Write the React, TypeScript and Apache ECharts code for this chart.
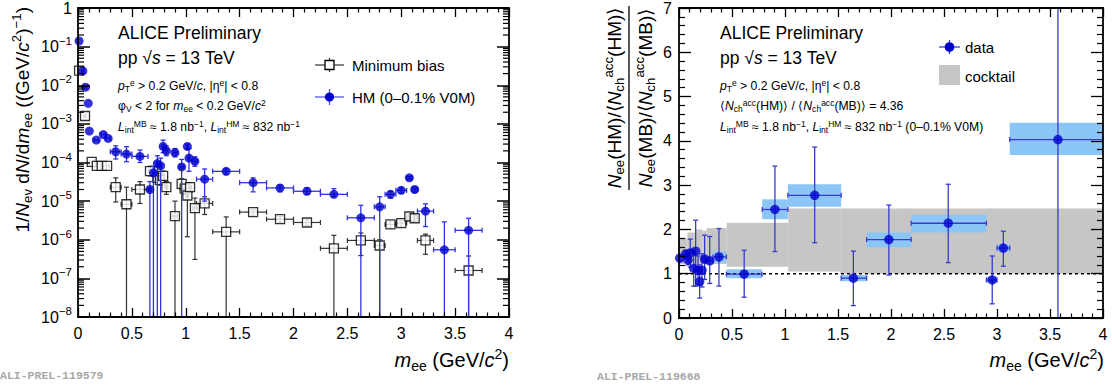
import React, { useEffect, useRef } from 'react';
import * as echarts from 'echarts';

const FONT = '"Liberation Sans", Arial, Helvetica, sans-serif';
const MONO = '"Liberation Mono", "DejaVu Sans Mono", monospace';

// ---------------- Left panel: dN/dm_ee ----------------
// High multiplicity (HM 0-0.1% V0M)
const hmMass = [0.01, 0.045, 0.07, 0.095, 0.105, 0.17, 0.235, 0.28, 0.35, 0.45, 0.575, 0.667, 0.70, 0.736, 0.767, 0.79, 0.82, 0.90, 0.962, 1.015, 1.03, 1.085, 1.175, 1.375, 1.625, 1.875, 2.125, 2.375, 2.625, 2.8, 2.9, 3.0, 3.075, 3.125, 3.225, 3.4, 3.625];
const hmYield = [0.14, 0.0235, 8.9e-3, 3.4e-3, 6.5e-4, 3.8e-4, 5.3e-4, 4.2e-4, 1.9e-4, 1.65e-4, 1.44e-4, 2.0e-5, 5.4e-5, 9.4e-5, 8.2e-5, 2.6e-4, 2.0e-4, 1.8e-4, 7.7e-5, 2.6e-4, 1.3e-4, 1.07e-4, 3.7e-5, 5.9e-5, 3.0e-5, 2.2e-5, 1.8e-5, 1.5e-5, 3.7e-6, 7.1e-6, 1.5e-5, 1.9e-5, 4.0e-5, 2.0e-5, 5.5e-6, 5.5e-7, 1.75e-6];
// 0 = error bar reaches below the axis minimum
const hmLow = [0.14, 0.0235, 8.9e-3, 3.4e-3, 6.5e-4, 3.8e-4, 5.3e-4, 4.2e-4, 1.23e-4, 1.05e-4, 1.0e-4, 0, 0, 0, 0, 1.8e-4, 1.5e-4, 1.4e-4, 0, 2.2e-4, 5.9e-5, 8e-5, 1.0e-5, 4.9e-5, 1.74e-5, 1.74e-5, 1.5e-5, 1.3e-5, 0, 0, 1.2e-5, 1.6e-5, 3.6e-5, 1.7e-5, 2.2e-6, 0, 0];
const hmHigh = [0.14, 0.0235, 8.9e-3, 3.4e-3, 6.5e-4, 3.8e-4, 5.3e-4, 4.2e-4, 2.7e-4, 2.57e-4, 2.1e-4, 3.2e-5, 8e-5, 1.5e-4, 1.3e-4, 3.8e-4, 2.7e-4, 2.3e-4, 1.2e-4, 3.0e-4, 2.3e-4, 1.4e-4, 6.8e-5, 6.8e-5, 4.0e-5, 2.6e-5, 2.2e-5, 2.1e-5, 7.8e-6, 1.3e-5, 1.8e-5, 2.2e-5, 4.4e-5, 2.3e-5, 8.5e-6, 2.9e-6, 3.6e-6];
const hmHalfWidth = [0.005, 0.01, 0.01, 0.005, 0.005, 0.02, 0.02, 0.02, 0.05, 0.05, 0.075, 0.012, 0.012, 0.012, 0.012, 0.012, 0.015, 0.02, 0.02, 0.01, 0.01, 0.02, 0.075, 0.125, 0.125, 0.125, 0.125, 0.125, 0.125, 0.05, 0.05, 0.05, 0.025, 0.025, 0.075, 0.1, 0.125];

// Minimum bias
const mbMass = [0.01, 0.065, 0.127, 0.175, 0.22, 0.27, 0.35, 0.45, 0.575, 0.668, 0.736, 0.76, 0.79, 0.82, 0.90, 0.962, 0.99, 1.015, 1.04, 1.085, 1.175, 1.375, 1.625, 1.875, 2.125, 2.375, 2.625, 2.8, 2.9, 3.0, 3.075, 3.125, 3.225, 3.625];
const mbYield = [0.024, 1.6e-3, 1.04e-4, 8.2e-5, 8.2e-5, 8.2e-5, 2.3e-5, 8.3e-6, 2.0e-5, 6.0e-5, 4.0e-5, 3.5e-5, 4.5e-5, 2.3e-5, 4.1e-6, 2.8e-5, 2.1e-5, 1.4e-5, 2.3e-5, 6.6e-6, 8.7e-6, 1.6e-6, 5.2e-6, 3.4e-6, 2.8e-6, 6.0e-7, 9.6e-7, 7.1e-7, 2.5e-6, 2.7e-6, 4.0e-6, 3.6e-6, 9.6e-7, 1.6e-7];
const mbLow = [0.024, 1.6e-3, 1.04e-4, 8.2e-5, 8.2e-5, 8.2e-5, 9.5e-6, 0, 8.7e-6, 4.5e-5, 3e-5, 2.6e-5, 3.3e-5, 1.5e-5, 0, 2.0e-5, 1.5e-5, 1.2e-6, 1.7e-5, 3.1e-7, 4.5e-6, 0, 4.3e-6, 2.8e-6, 2.3e-6, 0, 3.9e-7, 0, 2.0e-6, 2.2e-6, 3.4e-6, 3.0e-6, 4.2e-7, 0];
const mbHigh = [0.024, 1.6e-3, 1.04e-4, 8.2e-5, 8.2e-5, 8.2e-5, 4.0e-5, 2.3e-5, 3.2e-5, 8e-5, 5.3e-5, 4.6e-5, 6e-5, 3.2e-5, 1.0e-5, 3.8e-5, 2.8e-5, 2.2e-5, 3e-5, 1.2e-5, 1.3e-5, 3.9e-6, 6e-6, 4e-6, 3.3e-6, 1.3e-6, 1.5e-6, 1.0e-6, 3e-6, 3.2e-6, 4.6e-6, 4.2e-6, 1.4e-6, 3.8e-7];
const mbHalfWidth = [0.01, 0.01, 0.02, 0.02, 0.02, 0.02, 0.05, 0.05, 0.075, 0.012, 0.012, 0.012, 0.012, 0.012, 0.02, 0.012, 0.012, 0.012, 0.012, 0.02, 0.075, 0.125, 0.125, 0.125, 0.125, 0.125, 0.125, 0.05, 0.05, 0.05, 0.025, 0.025, 0.075, 0.125];

const leftXTickLabels = ['0', '0.5', '1', '1.5', '2', '2.5', '3', '3.5', '4'];
const leftYTickExponents = [0, -1, -2, -3, -4, -5, -6, -7, -8];

// ---------------- Right panel: HM / MB ratio ----------------
const ratioMass = [0.007, 0.063, 0.085, 0.107, 0.139, 0.157, 0.18, 0.195, 0.217, 0.242, 0.29, 0.377, 0.615, 0.905, 1.28, 1.645, 1.98, 2.54, 2.955, 3.06, 3.575];
const ratioValue = [1.35, 1.44, 1.31, 1.47, 1.12, 1.51, 1.07, 0.82, 1.08, 1.33, 1.29, 1.38, 0.99, 2.45, 2.77, 0.90, 1.77, 2.14, 0.86, 1.58, 4.03];
const ratioStatLow = [1.28, 1.35, 1.2, 1.15, 0.72, 0.72, 0.75, 0.45, 0.7, 0.87, 0.78, 0.72, 0.47, 1.50, 1.70, 0.28, 0.97, 1.25, 0.32, 1.17, -1];
const ratioStatHigh = [1.42, 1.53, 1.42, 1.78, 1.52, 2.21, 1.4, 1.2, 1.45, 1.87, 1.84, 2.02, 1.53, 3.43, 3.86, 1.51, 2.55, 3.02, 1.40, 1.96, 9];
const ratioBinLow = [0.0, 0.05, 0.075, 0.1, 0.13, 0.15, 0.17, 0.19, 0.21, 0.23, 0.26, 0.32, 0.447, 0.785, 1.027, 1.53, 1.77, 2.19, 2.9, 3.0, 3.12];
const ratioBinHigh = [0.015, 0.075, 0.095, 0.115, 0.145, 0.165, 0.19, 0.2, 0.225, 0.255, 0.32, 0.447, 0.783, 1.027, 1.53, 1.77, 2.19, 2.9, 3.0, 3.12, 4.0];
const ratioSysLow = [1.3, 1.39, 1.26, 1.42, 1.08, 1.46, 1.03, 0.78, 1.04, 1.28, 1.24, 1.25, 0.90, 2.23, 2.51, 0.83, 1.60, 1.93, 0.80, 1.49, 3.68];
const ratioSysHigh = [1.4, 1.49, 1.36, 1.52, 1.16, 1.56, 1.11, 0.86, 1.12, 1.38, 1.34, 1.5, 1.10, 2.68, 3.02, 0.97, 1.93, 2.33, 0.93, 1.67, 4.41];

const cocktailEdges = [0, 0.08, 0.15, 0.22, 0.26, 0.45, 1.03, 1.52, 4.0];
const cocktailLow = [1.22, 1.22, 1.22, 1.22, 1.22, 1.16, 1.05, 1.0];
const cocktailHigh = [1.80, 1.93, 2.0, 1.97, 2.03, 2.15, 2.47, 2.47];

const unityLine = [[0, 1], [4, 1]];
const rightYTickLabels = ['0', '1', '2', '3', '4', '5', '6', '7'];

// ---------------- helpers ----------------
const BOTTOM = 1e-11;
const rich = (s: number) => ({
  i: { fontSize: s, fontFamily: FONT, fontStyle: 'italic', lineHeight: s * 1.3 },
  n: { fontSize: s, fontFamily: FONT, lineHeight: s * 1.3 },
  sp: { fontSize: s * 0.7, fontFamily: FONT, verticalAlign: 'top', lineHeight: s * 0.8 },
  sb: { fontSize: s * 0.7, fontFamily: FONT, verticalAlign: 'bottom', lineHeight: s * 0.8 },
});

const txt = (x: number, y: number, text: string, size: number, extra: any = {}) => ({
  type: 'text',
  x,
  y,
  silent: true,
  z: 50,
  style: {
    text,
    fontSize: size,
    fontFamily: FONT,
    fill: '#000',
    lineHeight: size * 1.3,
    rich: rich(size),
    align: 'left',
    verticalAlign: 'middle',
    textAlign: 'left',
    textVerticalAlign: 'middle',
    ...extra,
  },
});

function errorBars(xi: number, yi: number, rows: number[][], color: string, lw: number, cap: number, z: number) {
  return {
    type: 'custom',
    xAxisIndex: xi,
    yAxisIndex: yi,
    clip: true,
    silent: true,
    z,
    data: rows,
    renderItem: (_p: any, api: any) => {
      const x = api.value(0), y = api.value(1);
      const xl = api.value(2), xh = api.value(3), yl = api.value(4), yh = api.value(5);
      const c = api.coord([x, y]);
      const L = api.coord([xl, y]), R = api.coord([xh, y]);
      const T = api.coord([x, yh]), B = api.coord([x, yl]);
      const st = { stroke: color, lineWidth: lw, fill: 'none' };
      const ch: any[] = [];
      const seg = (x1: number, y1: number, x2: number, y2: number) =>
        ch.push({ type: 'line', shape: { x1, y1, x2, y2 }, style: st });
      if (R[0] - L[0] > 2) {
        seg(L[0], c[1], R[0], c[1]);
        seg(L[0], c[1] - cap, L[0], c[1] + cap);
        seg(R[0], c[1] - cap, R[0], c[1] + cap);
      }
      if (B[1] - T[1] > 2) {
        seg(c[0], T[1], c[0], B[1]);
        seg(c[0] - cap, T[1], c[0] + cap, T[1]);
        seg(c[0] - cap, B[1], c[0] + cap, B[1]);
      }
      return { type: 'group', children: ch };
    },
  };
}

function boxes(xi: number, yi: number, rows: number[][], color: string, z: number) {
  return {
    type: 'custom',
    xAxisIndex: xi,
    yAxisIndex: yi,
    clip: true,
    silent: true,
    z,
    data: rows,
    renderItem: (_p: any, api: any) => {
      const a = api.coord([api.value(0), api.value(3)]);
      const b = api.coord([api.value(1), api.value(2)]);
      return {
        type: 'rect',
        shape: { x: a[0], y: a[1], width: b[0] - a[0], height: b[1] - a[1] },
        style: { fill: color, stroke: 'none' },
      };
    },
  };
}

const hmRows = hmMass.map((m, i) => [m, hmYield[i], m - hmHalfWidth[i], m + hmHalfWidth[i], hmLow[i] > 0 ? hmLow[i] : BOTTOM, hmHigh[i]]);
const mbRows = mbMass.map((m, i) => [m, mbYield[i], m - mbHalfWidth[i], m + mbHalfWidth[i], mbLow[i] > 0 ? mbLow[i] : BOTTOM, mbHigh[i]]);
const ratioRows = ratioMass.map((m, i) => [m, ratioValue[i], ratioBinLow[i], ratioBinHigh[i], ratioStatLow[i], ratioStatHigh[i]]);
const sysRows = ratioMass.map((_m, i) => [ratioBinLow[i], ratioBinHigh[i], ratioSysLow[i], ratioSysHigh[i]]);
const cocktailRows = cocktailLow.map((lo, i) => [cocktailEdges[i], cocktailEdges[i + 1], lo, cocktailHigh[i]]);

// minor log ticks (2..9 x 10^n) for the left y axis
const minorLogTicks: number[][] = [];
leftYTickExponents.forEach((n) => {
  if (n === 0) return;
  for (let k = 2; k <= 9; k++) minorLogTicks.push([0, k * Math.pow(10, n)]);
});

const tickRich = {
  b: { fontSize: 16, fontFamily: FONT, color: '#000', lineHeight: 24 },
  sup: { fontSize: 11.5, fontFamily: FONT, color: '#000', verticalAlign: 'top', lineHeight: 12 },
};

const axisLineStyle = { lineStyle: { color: '#000', width: 1.8 } };

function xAx(grid: number, position: 'bottom' | 'top', labels: boolean, major: number, minor: number) {
  return {
    type: 'value',
    gridIndex: grid,
    position,
    min: 0,
    max: 4,
    interval: 0.5,
    z: 10,
    axisLine: { show: true, onZero: false, ...axisLineStyle },
    axisTick: { show: true, inside: true, length: major, lineStyle: { color: '#000', width: 1.3 } },
    minorTick: { show: true, splitNumber: 5, length: minor, lineStyle: { color: '#000', width: 1.2 } },
    splitLine: { show: false },
    axisLabel: {
      show: labels,
      margin: 8,
      fontSize: 16,
      fontFamily: FONT,
      color: '#000',
      formatter: (v: number) => leftXTickLabels[Math.round(v / 0.5)] ?? '',
    },
  };
}

const option: any = {
  animation: false,
  textStyle: { fontFamily: FONT },
  grid: [
    { left: 78, top: 7, width: 431, height: 310 },
    { left: 679, top: 8, width: 424, height: 310 },
  ],
  xAxis: [
    xAx(0, 'bottom', true, 9, 4.5),
    xAx(0, 'top', false, 9, 4.5),
    xAx(1, 'bottom', true, 9, 4.5),
    xAx(1, 'top', false, 9, 4.5),
  ],
  yAxis: [
    {
      type: 'log',
      logBase: 10,
      gridIndex: 0,
      position: 'left',
      min: 1e-8,
      max: 1,
      z: 10,
      axisLine: { show: true, onZero: false, ...axisLineStyle },
      axisTick: { show: true, inside: true, length: 12, lineStyle: { color: '#000', width: 1.5 } },
      splitLine: { show: false },
      axisLabel: {
        margin: 6,
        fontSize: 16,
        fontFamily: FONT,
        color: '#000',
        rich: tickRich,
        formatter: (v: number) => {
          const n = Math.round(Math.log10(v));
          return n === 0 ? '{b|1}' : `{b|10}{sup|−${-n}}`;
        },
      },
    },
    {
      type: 'log',
      logBase: 10,
      gridIndex: 0,
      position: 'right',
      min: 1e-8,
      max: 1,
      z: 10,
      axisLine: { show: true, onZero: false, ...axisLineStyle },
      axisTick: { show: true, inside: true, length: 12, lineStyle: { color: '#000', width: 1.5 } },
      splitLine: { show: false },
      axisLabel: { show: false },
    },
    {
      type: 'value',
      gridIndex: 1,
      position: 'left',
      min: 0,
      max: 7,
      interval: 1,
      z: 10,
      axisLine: { show: true, onZero: false, ...axisLineStyle },
      axisTick: { show: true, inside: true, length: 12, lineStyle: { color: '#000', width: 1.3 } },
      minorTick: { show: true, splitNumber: 5, length: 6, lineStyle: { color: '#000', width: 1.2 } },
      splitLine: { show: false },
      axisLabel: {
        margin: 7,
        fontSize: 16,
        fontFamily: FONT,
        color: '#000',
        formatter: (v: number) => rightYTickLabels[Math.round(v)] ?? '',
      },
    },
    {
      type: 'value',
      gridIndex: 1,
      position: 'right',
      min: 0,
      max: 7,
      interval: 1,
      z: 10,
      axisLine: { show: true, onZero: false, ...axisLineStyle },
      axisTick: { show: true, inside: true, length: 12, lineStyle: { color: '#000', width: 1.3 } },
      minorTick: { show: true, splitNumber: 5, length: 6, lineStyle: { color: '#000', width: 1.2 } },
      splitLine: { show: false },
      axisLabel: { show: false },
    },
  ],
  series: [
    {
      type: 'custom',
      xAxisIndex: 0,
      yAxisIndex: 0,
      silent: true,
      z: 9,
      data: minorLogTicks,
      renderItem: (_p: any, api: any) => {
        const v = api.value(1);
        const l = api.coord([0, v]);
        const r = api.coord([4, v]);
        const st = { stroke: '#000', lineWidth: 1.2 };
        return {
          type: 'group',
          children: [
            { type: 'line', shape: { x1: l[0], y1: l[1], x2: l[0] + 6, y2: l[1] }, style: st },
            { type: 'line', shape: { x1: r[0] - 6, y1: r[1], x2: r[0], y2: r[1] }, style: st },
          ],
        };
      },
    },
    errorBars(0, 0, mbRows, '#333333', 1.2, 2.5, 2),
    {
      name: 'Minimum bias',
      type: 'scatter',
      xAxisIndex: 0,
      yAxisIndex: 0,
      z: 3,
      symbol: 'rect',
      symbolSize: 9,
      itemStyle: { color: '#ffffff', borderColor: '#000', borderWidth: 1.3 },
      data: mbMass.map((m, i) => [m, mbYield[i]]),
    },
    errorBars(0, 0, hmRows, '#3333e0', 1.3, 2.5, 4),
    {
      name: 'HM (0–0.1% V0M)',
      type: 'scatter',
      xAxisIndex: 0,
      yAxisIndex: 0,
      z: 5,
      symbol: 'circle',
      symbolSize: 9,
      itemStyle: { color: '#0000cc' },
      data: hmMass.map((m, i) => [m, hmYield[i]]),
    },
    boxes(2, 2, cocktailRows, '#c6c6c6', 1),
    boxes(2, 2, sysRows, '#8cc6f7', 2),
    {
      type: 'line',
      xAxisIndex: 2,
      yAxisIndex: 2,
      z: 3,
      symbol: 'none',
      silent: true,
      lineStyle: { color: '#000', width: 1.6, type: [3, 3] },
      data: unityLine,
    },
    errorBars(2, 2, ratioRows, '#3a3ad0', 1.3, 2.5, 4),
    {
      name: 'data',
      type: 'scatter',
      xAxisIndex: 2,
      yAxisIndex: 2,
      z: 5,
      symbol: 'circle',
      symbolSize: 9.5,
      itemStyle: { color: '#0000cc' },
      data: ratioMass.map((m, i) => [m, ratioValue[i]]),
    },
  ],
  graphic: [
    // ---- left panel texts ----
    txt(118, 33, 'ALICE Preliminary', 17.5),
    txt(118, 58, 'pp √{i|s} = 13 TeV', 17.5),
    txt(118, 86, '{i|p}{sb|T}{sp|e} > 0.2 GeV/{i|c}, |η{sp|e}| < 0.8', 12.2),
    txt(118, 106, 'φ{sb|V} < 2 for {i|m}{sb|ee} < 0.2 GeV/{i|c}{sp|2}', 12.2),
    txt(118, 127, '{i|L}{sb|int}{sp|MB} ≈ 1.8 nb{sp|−1}, {i|L}{sb|int}{sp|HM} ≈ 832 nb{sp|−1}', 12.2),
    // legend left
    { type: 'line', silent: true, z: 50, shape: { x1: 315, y1: 65, x2: 344, y2: 65 }, style: { stroke: '#333', lineWidth: 1.2 } },
    { type: 'line', silent: true, z: 50, shape: { x1: 329.5, y1: 58, x2: 329.5, y2: 72 }, style: { stroke: '#333', lineWidth: 1.2 } },
    { type: 'rect', silent: true, z: 51, shape: { x: 325, y: 60.5, width: 9, height: 9 }, style: { fill: '#fff', stroke: '#000', lineWidth: 1.3 } },
    txt(352, 65, 'Minimum bias', 15),
    { type: 'line', silent: true, z: 50, shape: { x1: 315, y1: 97, x2: 344, y2: 97 }, style: { stroke: '#5555e6', lineWidth: 1.3 } },
    { type: 'line', silent: true, z: 50, shape: { x1: 329.5, y1: 89, x2: 329.5, y2: 105 }, style: { stroke: '#5555e6', lineWidth: 1.3 } },
    { type: 'circle', silent: true, z: 51, shape: { cx: 329.5, cy: 97, r: 4.6 }, style: { fill: '#0000cc' } },
    txt(352, 97, 'HM (0–0.1% V0M)', 15),
    // axis titles left
    txt(22, 7, '1/{i|N}{sb|ev} d{i|N}/d{i|m}{sb|ee} ((GeV/{i|c}{sp|2}){sp|−1})', 19, { align: 'right', textAlign: 'right' }),
    txt(509, 360, '{i|m}{sb|ee} (GeV/{i|c}{sp|2})', 20, { align: 'right', textAlign: 'right' }),
    // ---- right panel texts ----
    txt(720, 33, 'ALICE Preliminary', 17.5),
    txt(720, 58, 'pp √{i|s} = 13 TeV', 17.5),
    txt(720, 86, '{i|p}{sb|T}{sp|e} > 0.2 GeV/{i|c}, |η{sp|e}| < 0.8', 12.2),
    txt(720, 106, '⟨{i|N}{sb|ch}{sp|acc}(HM)⟩ / ⟨{i|N}{sb|ch}{sp|acc}(MB)⟩ = 4.36', 12.2),
    txt(720, 127, '{i|L}{sb|int}{sp|MB} ≈ 1.8 nb{sp|−1}, {i|L}{sb|int}{sp|HM} ≈ 832 nb{sp|−1} (0–0.1% V0M)', 12.2),
    // legend right
    { type: 'line', silent: true, z: 50, shape: { x1: 939, y1: 47, x2: 960, y2: 47 }, style: { stroke: '#3a3ad0', lineWidth: 1.3 } },
    { type: 'line', silent: true, z: 50, shape: { x1: 949.5, y1: 40, x2: 949.5, y2: 54 }, style: { stroke: '#3a3ad0', lineWidth: 1.3 } },
    { type: 'circle', silent: true, z: 51, shape: { cx: 949.5, cy: 47, r: 4.8 }, style: { fill: '#0000cc' } },
    txt(965, 47, 'data', 15),
    { type: 'rect', silent: true, z: 50, shape: { x: 939, y: 65, width: 21, height: 20 }, style: { fill: '#c6c6c6' } },
    txt(965, 76, 'cocktail', 15),
    txt(1104, 360, '{i|m}{sb|ee} (GeV/{i|c}{sp|2})', 20, { align: 'right', textAlign: 'right' }),
    {
      type: 'group',
      x: 629,
      y: 98,
      rotation: Math.PI / 2,
      silent: true,
      z: 50,
      children: [
        txt(0, -15, '{i|N}{sb|ee}(HM)/⟨{i|N}{sb|ch}{sp|acc}(HM)⟩', 19, { align: 'center', textAlign: 'center' }),
        { type: 'line', shape: { x1: -92, y1: 0, x2: 92, y2: 0 }, style: { stroke: '#000', lineWidth: 1.3 } },
        txt(0, 16, '{i|N}{sb|ee}(MB)/⟨{i|N}{sb|ch}{sp|acc}(MB)⟩', 19, { align: 'center', textAlign: 'center' }),
      ],
    },
    // watermarks
    { type: 'text', x: 0, y: 375, silent: true, style: { text: 'ALI-PREL-119579', fontSize: 11.5, fontWeight: 'bold', fontFamily: MONO, fill: '#a8a8a8', verticalAlign: 'middle', textVerticalAlign: 'middle' } },
    { type: 'text', x: 597, y: 376, silent: true, style: { text: 'ALI-PREL-119668', fontSize: 11.5, fontWeight: 'bold', fontFamily: MONO, fill: '#a8a8a8', verticalAlign: 'middle', textVerticalAlign: 'middle' } },
  ],
};

// rotate the left y-axis title
option.graphic[13] = { ...option.graphic[13], rotation: Math.PI / 2 };

export default function App() {
  const ref = useRef<HTMLDivElement>(null);
  useEffect(() => {
    document.body.style.margin = '0';
    const chart = echarts.init(ref.current!, null, { renderer: 'svg' });
    chart.setOption(option);
    return () => chart.dispose();
  }, []);
  return <div ref={ref} style={{ width: 1112, height: 388, background: '#fff' }} />;
}
